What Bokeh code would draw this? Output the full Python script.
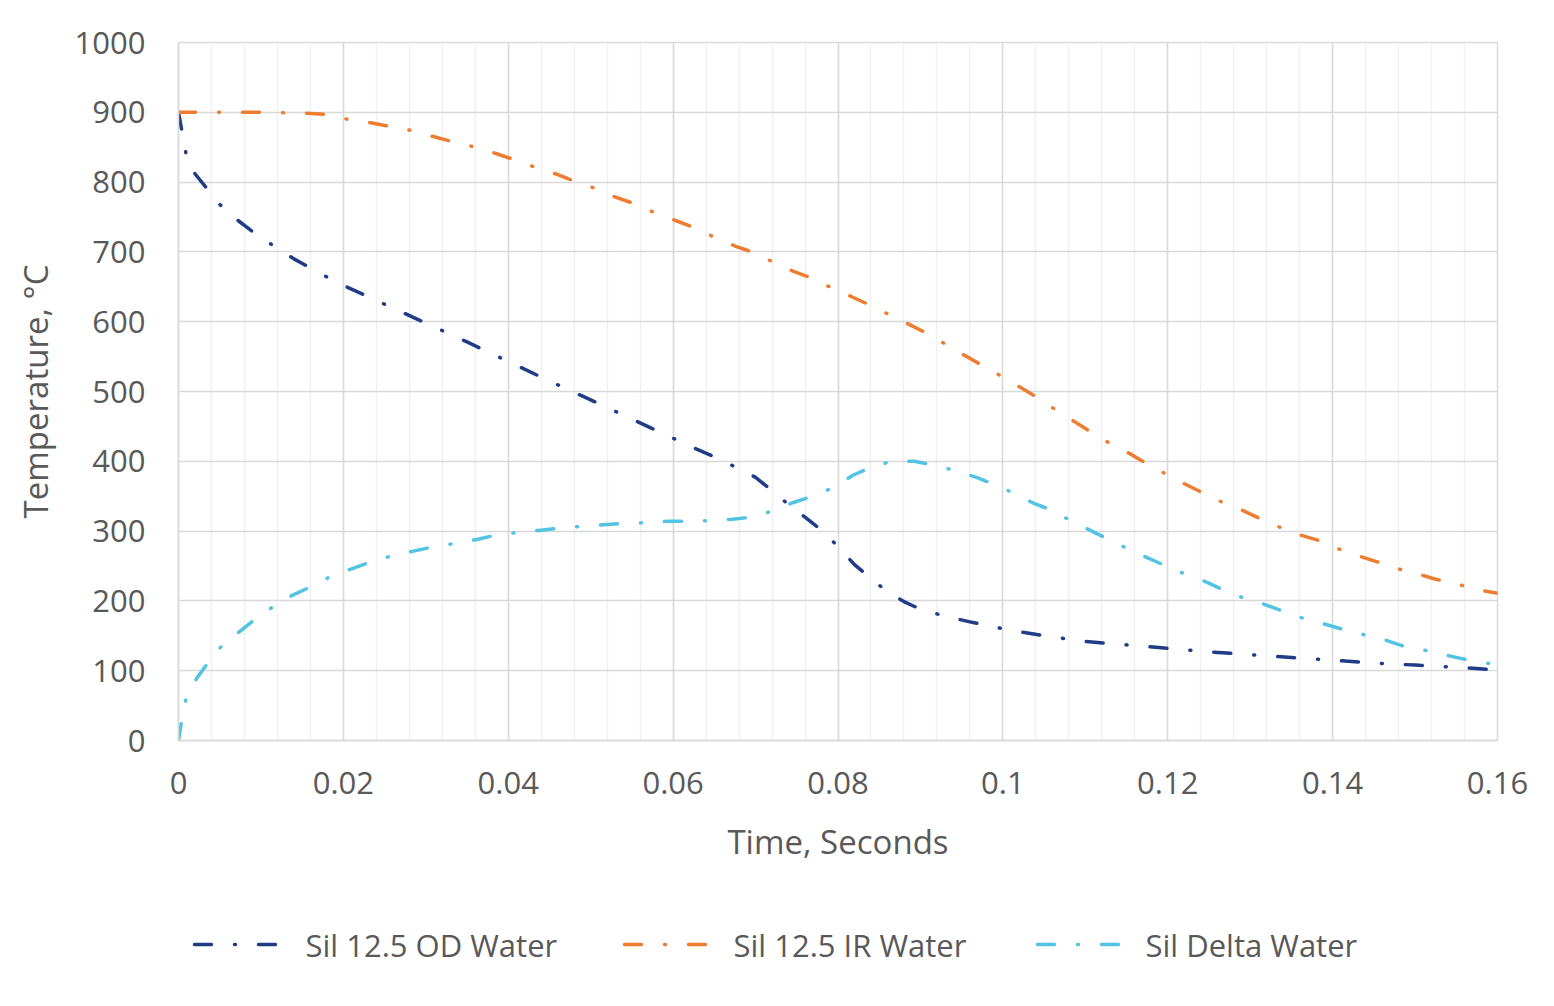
from bokeh.plotting import figure
from bokeh.models import FixedTicker, Range1d
from bokeh.layouts import column
from bokeh.core.properties import value
from bokeh.embed import file_html
from bokeh.resources import INLINE

# ---- data ----
od_t = [0, 0.001, 0.002, 0.0035, 0.005, 0.007, 0.009, 0.0115, 0.014, 0.016,
        0.018, 0.02, 0.025, 0.03, 0.035, 0.04, 0.045, 0.05, 0.054, 0.058,
        0.062, 0.066, 0.07, 0.072, 0.074, 0.076, 0.078, 0.08, 0.082, 0.084,
        0.086, 0.088, 0.09, 0.093, 0.096, 0.1, 0.105, 0.11, 0.115, 0.12,
        0.125, 0.13, 0.135, 0.14, 0.145, 0.15, 0.155, 0.16]
od_v = [900, 835, 812, 790, 768, 747, 729, 709, 690, 677,
        664, 652, 625, 598, 571, 543, 515, 488, 466, 444,
        422, 401, 377, 358, 338, 320, 301, 278, 252, 232,
        213, 199, 188, 178, 170, 160, 150, 142, 137, 132,
        127, 123, 119, 115, 111, 108, 105, 101]

ir_t = [0, 0.005, 0.01, 0.015, 0.018, 0.0205, 0.0233, 0.0255, 0.0282, 0.031,
        0.0335, 0.036, 0.0385, 0.0405, 0.0431, 0.0457, 0.0479, 0.0505, 0.0531, 0.0553,
        0.0578, 0.0603, 0.0625, 0.065, 0.0676, 0.0698, 0.0722, 0.0746, 0.0769, 0.0793,
        0.0818, 0.084, 0.0864, 0.0888, 0.091, 0.0933, 0.0956, 0.0977, 0.1001, 0.1024,
        0.1044, 0.1065, 0.1088, 0.1108, 0.1131, 0.1154, 0.1174, 0.1196, 0.122, 0.1242,
        0.1265, 0.129, 0.131, 0.1335, 0.1359, 0.1382, 0.1406, 0.143, 0.1454, 0.1479,
        0.1503, 0.1525, 0.1551, 0.158, 0.16]
ir_v = [900, 900, 900, 899, 897, 890, 885, 880, 874, 865,
        857, 850, 841, 833, 822, 812, 802, 791, 778, 769,
        756, 745, 735, 721, 708, 699, 685, 672, 662, 648,
        635, 623, 609, 595, 582, 566, 550, 536, 520, 504,
        490, 473, 456, 441, 425, 411, 397, 383, 368, 355,
        342, 330, 319, 306, 295, 287, 275, 265, 256, 246,
        239, 231, 224, 215, 211]

dw_t = [0, 0.0002, 0.0004, 0.0009, 0.0022, 0.0035, 0.0052, 0.0074, 0.0092, 0.0114,
        0.0138, 0.0158, 0.0183, 0.021, 0.0231, 0.0257, 0.0284, 0.0307, 0.0334, 0.0362,
        0.0384, 0.0411, 0.0437, 0.0461, 0.0489, 0.0516, 0.054, 0.0567, 0.0593, 0.0619,
        0.0644, 0.0672, 0.0696, 0.0721, 0.0746, 0.0769, 0.0794, 0.0818, 0.0839, 0.0865,
        0.0892, 0.0915, 0.0941, 0.0968, 0.0989, 0.1014, 0.1037, 0.1059, 0.1082, 0.1106,
        0.1127, 0.1151, 0.1175, 0.1196, 0.122, 0.1245, 0.1267, 0.129, 0.1315, 0.1338,
        0.1362, 0.1387, 0.141, 0.1436, 0.1461, 0.1484, 0.1509, 0.1535, 0.1558, 0.158,
        0.16]
dw_v = [0, 15, 30, 59, 89, 110, 135, 156, 173, 191,
        208, 219, 234, 246, 255, 264, 271, 277, 282, 288,
        294, 298, 301, 304, 307, 309, 311, 312, 314, 314,
        315, 317, 320, 329, 341, 350, 362, 380, 391, 400,
        400, 395, 387, 377, 367, 354, 340, 330, 315, 301,
        289, 275, 262, 251, 239, 228, 216, 205, 196, 186,
        176, 168, 160, 152, 145, 136, 130, 123, 117, 112,
        109]

series_names = ["Sil 12.5 OD Water", "Sil 12.5 IR Water", "Sil Delta Water"]
x_ticks = [0, 0.02, 0.04, 0.06, 0.08, 0.1, 0.12, 0.14, 0.16]
x_tick_labels = ["0", "0.02", "0.04", "0.06", "0.08", "0.1", "0.12", "0.14", "0.16"]
x_minor = [i * 0.004 for i in range(41)]
y_ticks = [0, 100, 200, 300, 400, 500, 600, 700, 800, 900, 1000]
y_tick_labels = [str(v) for v in y_ticks]

FONT = "Open Sans"
TXT = "#595959"
GRID = "#D9D9D9"
W = 1546
MAIN_H = 880
LEG_H = 118
BL, BR = 178, 49

p = figure(width=W, height=MAIN_H, output_backend="svg", toolbar_location=None,
           x_range=Range1d(0, 0.16), y_range=Range1d(0, 1000),
           min_border_left=BL, min_border_right=BR, min_border_top=42,
           min_border_bottom=140)
p.background_fill_color = "white"
p.border_fill_color = "white"
p.outline_line_color = GRID
p.outline_line_width = 1.5

p.xaxis.ticker = FixedTicker(ticks=x_ticks, minor_ticks=x_minor)
p.yaxis.ticker = FixedTicker(ticks=y_ticks)
p.xaxis.major_label_overrides = {t: l for t, l in zip(x_ticks, x_tick_labels)}
p.yaxis.major_label_overrides = {t: l for t, l in zip(y_ticks, y_tick_labels)}

for ax in (p.xaxis, p.yaxis):
    ax.axis_line_color = GRID
    ax.axis_line_width = 1.5
    ax.major_tick_line_color = None
    ax.minor_tick_line_color = None
    ax.major_tick_out = 0
    ax.major_tick_in = 0
    ax.minor_tick_out = 0
    ax.minor_tick_in = 0
    ax.major_label_text_font = FONT
    ax.major_label_text_font_size = "31px"
    ax.major_label_text_color = TXT
    ax.axis_label_text_font = FONT
    ax.axis_label_text_font_size = "33px"
    ax.axis_label_text_color = TXT
    ax.axis_label_text_font_style = "normal"

p.xaxis.axis_label = "Time, Seconds"
p.yaxis.axis_label = "Temperature, \u00b0C"
p.xaxis.major_label_standoff = 31
p.yaxis.major_label_standoff = 33
p.xaxis.axis_label_standoff = 22
p.yaxis.axis_label_standoff = 14

p.xgrid.grid_line_color = GRID
p.xgrid.grid_line_width = 1.5
p.xgrid.minor_grid_line_color = "#F0F0F0"
p.xgrid.minor_grid_line_width = 1.5
p.ygrid.grid_line_color = GRID
p.ygrid.grid_line_width = 1.5

colors = ["#203C87", "#ED7D31", "#52C3E3"]
dash = "17 23 1 23"
style = dict(line_width=3.5, line_dash=dash, line_cap="round", line_join="round")
p.line(od_t, od_v, line_color=colors[0], **style)
p.line(ir_t, ir_v, line_color=colors[1], **style)
p.line(dw_t, dw_v, line_color=colors[2], **style)

# ---- legend strip below the chart (page-pixel coordinates) ----
leg = figure(width=W, height=LEG_H, output_backend="svg", toolbar_location=None,
             x_range=Range1d(BL, W - BR), y_range=Range1d(0, LEG_H),
             x_axis_type=None, y_axis_type=None,
             min_border_left=BL, min_border_right=BR, min_border_top=0,
             min_border_bottom=0)
leg.outline_line_color = None
leg.grid.visible = False
leg.background_fill_color = "white"
leg.border_fill_color = "white"

sample_x0 = [194, 624, 1037]
sample_len = 84
label_x = [305, 733, 1145]
row_y = LEG_H - 64
for i in range(3):
    leg.line([sample_x0[i], sample_x0[i] + sample_len], [row_y, row_y],
             line_color=colors[i], **style)
    leg.text(x=[label_x[i]], y=[row_y], text=[series_names[i]],
             text_font=value(FONT), text_font_size="31px", text_color=TXT,
             text_baseline="middle", text_align="left")

layout = column(p, leg, spacing=0)
open("out.html", "w").write(file_html(layout, INLINE))
